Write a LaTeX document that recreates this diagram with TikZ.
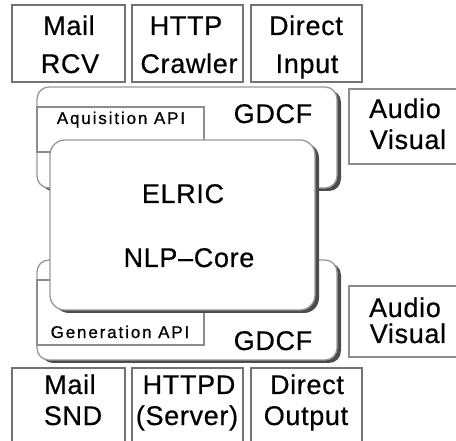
\documentclass[tikz,border=0pt]{standalone}
\usepackage{fontspec}
\setmainfont{Liberation Sans}
\usetikzlibrary{shadows}
\begin{document}
\begin{tikzpicture}[x=1pt,y=-1pt,
  every node/.style={inner sep=0pt, outer sep=0pt},
  srcbox/.style={draw=black!55, line width=1.4pt, fill=white, anchor=north west},
  avbox/.style={draw=black!45, line width=1.1pt, fill=white, anchor=north west},
  apibox/.style={draw=black!45, line width=1.1pt, fill=white, anchor=north west},
  bevel/.style={draw=black!40, line width=1.3pt, fill=white, anchor=north west,
    general shadow={fill=black!70, shadow xshift=4pt, shadow yshift=-3pt}},
  bigtext/.style={font=\fontsize{27}{30}\selectfont\addfontfeature{LetterSpace=2.5,FakeBold=0.5}, text=black, anchor=base},
  smalltext/.style={font=\fontsize{17}{20}\selectfont\addfontfeature{LetterSpace=11,FakeBold=0.8}, text=black, anchor=base},
]
\useasboundingbox (0,0) rectangle (456,441);
\clip (0,0) rectangle (456,441);

% input sources
\node[srcbox, minimum width=113pt, minimum height=77pt] (mailrcv) at (12,5) {};
\node[bigtext] (mailrcv1) at (69,35) {Mail};
\node[bigtext] (mailrcv2) at (70,73) {RCV};
\node[srcbox, minimum width=111pt, minimum height=77pt] (crawler) at (132,5) {};
\node[bigtext] (crawler1) at (186,35) {HTTP};
\node[bigtext] (crawler2) at (189,73) {Crawler};
\node[srcbox, minimum width=111pt, minimum height=77pt] (dinput) at (251,5) {};
\node[bigtext] (dinput1) at (306,35) {Direct};
\node[bigtext] (dinput2) at (307,73) {Input};

% audio visual
\node[avbox, minimum width=122pt, minimum height=75pt] (av1) at (349,89) {};
\node[bigtext] (av1a) at (405,118) {Audio};
\node[bigtext] (av1b) at (408,149) {Visual};
\node[avbox, minimum width=122pt, minimum height=71pt] (av2) at (349,286) {};
\node[bigtext] (av2a) at (405,317) {Audio};
\node[bigtext] (av2b) at (408,343) {Visual};

% upper GDCF
\node[bevel, rounded corners=12pt, minimum width=300pt, minimum height=101pt] (gdcf1) at (37,87) {};
\node[apibox, minimum width=167pt, minimum height=45pt] (acq) at (37,107) {};
\node[smalltext] (acqt) at (121,124) {Aquisition API};
\node[bigtext] (gdcf1t) at (273,123) {GDCF};

% lower GDCF
\node[bevel, rounded corners=12pt, minimum width=300pt, minimum height=100pt] (gdcf2) at (37,260) {};
\node[apibox, minimum width=167pt, minimum height=65pt] (gen) at (37,280) {};
\node[smalltext] (gent) at (120,338) {Generation API};
\node[bigtext] (gdcf2t) at (273,350) {GDCF};

% core
\node[bevel, rounded corners=15pt, minimum width=265pt, minimum height=170pt] (core) at (50,140) {};
\node[bigtext] (core1) at (183,203) {ELRIC};
\node[bigtext] (core2) at (189,267) {NLP–Core};

% output sinks
\node[srcbox, minimum width=113pt, minimum height=90pt] (mailsnd) at (12,368) {};
\node[bigtext] (mailsnd1) at (70,394) {Mail};
\node[bigtext] (mailsnd2) at (73,425) {SND};
\node[srcbox, minimum width=111pt, minimum height=90pt] (httpd) at (132,368) {};
\node[bigtext] (httpd1) at (189,394) {HTTPD};
\node[bigtext] (httpd2) at (187,425) {(Server)};
\node[srcbox, minimum width=111pt, minimum height=90pt] (doutput) at (251,368) {};
\node[bigtext] (doutput1) at (307,394) {Direct};
\node[bigtext] (doutput2) at (306,425) {Output};
\end{tikzpicture}
\end{document}
